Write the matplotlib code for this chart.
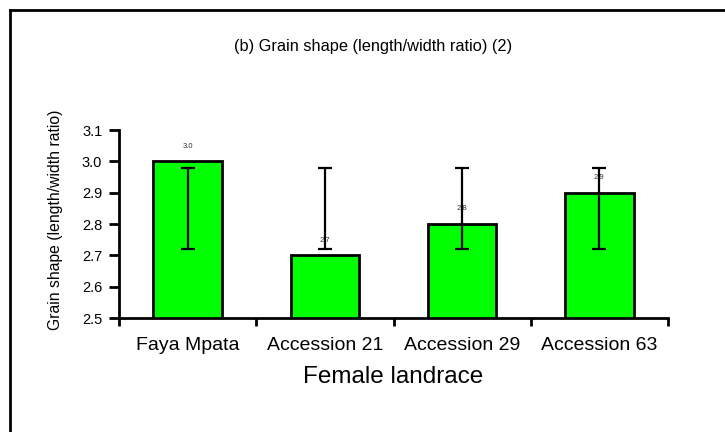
import matplotlib
matplotlib.use("Agg")
import matplotlib.pyplot as plt
import numpy as np

plt.rcParams['font.family'] = ['Liberation Sans', 'DejaVu Sans']

# data
landraces = ["Faya Mpata", "Accession 21", "Accession 29", "Accession 63"]
ratio = [3.0, 2.7, 2.8, 2.9]
err_low = [2.72, 2.72, 2.72, 2.72]
err_high = [2.98, 2.98, 2.98, 2.98]
yticks = [2.5, 2.6, 2.7, 2.8, 2.9, 3.0, 3.1]

fig = plt.figure(figsize=(7.25, 4.32), dpi=100)
ax = fig.add_axes([119/725, 1-318/432, (668-119)/725, (318-130)/432])

x = np.arange(len(landraces))
ax.bar(x, ratio, width=0.5, color="#00FF00", edgecolor="black", linewidth=2, zorder=2)

# error bars (asymmetric range given as low/high)
lo = np.array(err_low)
hi = np.array(err_high)
ax.errorbar(x, (lo + hi) / 2, yerr=(hi - lo) / 2, fmt="none", ecolor="black",
            elinewidth=1.6, capsize=5, capthick=1.6, zorder=4)

# value labels
for xi, v in zip(x, ratio):
    ax.annotate("%.1f" % v, (xi, v), xytext=(0, 11), textcoords="offset points",
                ha="center", va="center", fontsize=5.5, color="#333333", zorder=3)

ax.set_xlim(-0.5, len(landraces) - 0.5)
ax.set_ylim(2.5, 3.1)
ax.set_yticks(yticks)
ax.set_yticklabels(["%.1f" % t for t in yticks])

# ticks at category boundaries, labels at centers
ax.set_xticks(np.arange(-0.5, len(landraces)), minor=False)
ax.set_xticklabels([])
ax.set_xticks(x, minor=True)
ax.set_xticklabels(landraces, minor=True, fontsize=14)
ax.tick_params(axis="x", which="minor", length=0, pad=14)
ax.tick_params(axis="x", which="major", length=6, width=2, direction="out")
ax.tick_params(axis="y", length=7, width=2, direction="out", labelsize=10.5, pad=5)

for s in ["top", "right"]:
    ax.spines[s].set_visible(False)
for s in ["left", "bottom"]:
    ax.spines[s].set_linewidth(2)

ax.set_xlabel("Female landrace", fontsize=17.5, labelpad=8)
fig.text(56/725, 1-220/432, "Grain shape (length/width ratio)", rotation=90,
         ha="center", va="center", fontsize=11.3)
fig.text(373/725, 1-47/432, "(b) Grain shape (length/width ratio) (2)",
         ha="center", va="center", fontsize=11.8)

# outer frame (top and left edges visible)
fig.add_artist(plt.Line2D([10/725, 1.0], [1-10/432, 1-10/432], color="black", lw=2,
                          transform=fig.transFigure))
fig.add_artist(plt.Line2D([10/725, 10/725], [0.0, 1-10/432], color="black", lw=2,
                          transform=fig.transFigure))

fig.savefig("out.png", dpi=100)
